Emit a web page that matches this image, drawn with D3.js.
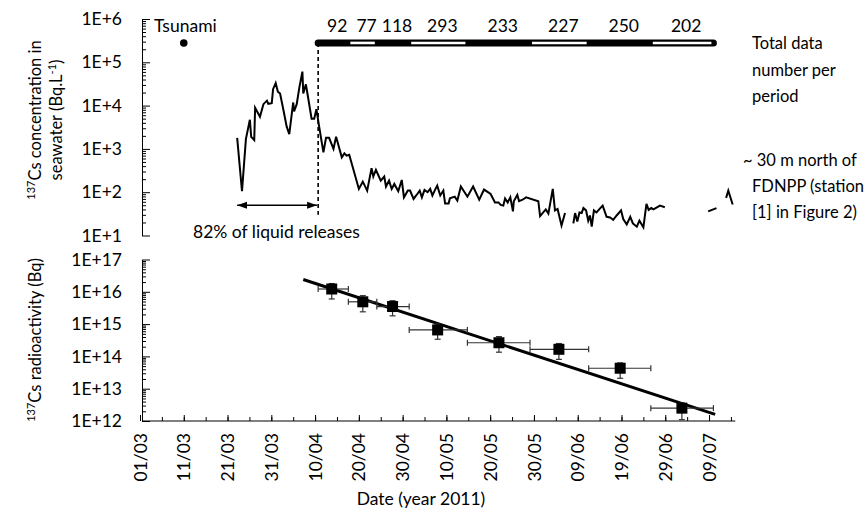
<!DOCTYPE html>
<html><head><meta charset="utf-8">
<script src="https://cdn.jsdelivr.net/npm/d3@7"></script>
<style>
body{margin:0;background:#fff}
svg{display:block}
text{font-family:Lato,"Open Sans",sans-serif;fill:#000}
</style>
</head><body><div id="chart"></div>
<script>
// ---------- data ----------
// days since 01/03/2011 ; null value = gap in the record
const seawaterDays = [22.2,23.3,24.2,25.1,25.4,26.1,26.3,27.4,28.2,29.0,29.3,30.1,30.4,31.0,31.5,32.0,32.8,33.5,34.1,35.0,35.2,35.8,36.4,37.1,37.3,37.9,38.4,39.2,39.8,40.3,40.9,41.9,42.5,43.2,44.2,44.8,46.1,46.7,47.2,47.8,50.0,50.9,51.9,52.9,53.3,53.9,55.0,55.8,56.2,56.9,57.5,58.1,59.0,59.8,60.3,61.2,61.7,62.5,63.1,63.9,64.4,65.0,65.7,66.3,66.8,67.4,67.9,68.6,69.3,69.7,70.5,70.8,71.9,72.5,73.3,74.0,74.8,76.1,77.5,78.6,80.1,81.1,81.9,82.4,83.0,83.4,84.0,84.6,85.2,85.4,86.2,86.6,87.4,88.2,91.0,91.4,92.7,93.3,94.3,94.8,95.4,96.3,97.1,98.0,99.0,99.4,99.9,100.4,100.9,101.3,101.9,102.4,102.8,103.2,103.7,104.3,104.9,105.7,106.6,107.4,108.1,108.9,109.9,110.4,111.2,112.0,112.6,113.5,114.1,115.0,115.7,116.2,116.8,117.3,118.8,119.9,125.0,129.8,131.7,132.7,133.9,134.4,135.4];
const seawaterValues = [1800,105,1700,4700,1900,1600,8900,5500,10800,13000,11000,11400,24000,33000,21000,19000,7600,3300,2200,11800,7300,10800,26000,61000,19000,31000,15400,5000,5000,8300,3400,830,1800,1800,1000,1900,640,790,700,730,119,175,109,360,230,330,185,230,135,185,119,155,105,192,76,109,109,70,84,109,76,113,100,119,84,113,142,84,109,55,55,72,79,64,135,105,79,135,67,115,91,58,58,51,49,72,58,76,36,62,87,62,67,76,62,28,40,32,119,38,41,17,33,null,19,33,21,34,33,43,38,22,29,16,38,34,40,49,27,26,23,29,38,24,18,27,19,16,22,15.5,54,39,43,40,49,45,null,36,43,null,74,109,52];

const periodBounds = [40.7,47.6,54.1,61.5,74.8,89.1,102.5,116.7,131.0];
const periodCounts = [92,77,118,293,233,227,250,202];

const activityDays   = [43.8,50.9,57.7,68.0,82.0,95.7,109.7,123.8];
const activityValues = [1.22e16,4.9e15,3.5e15,6.6e14,2.65e14,1.66e14,4.3e13,2.5e12];
const activityLow    = [6.0e15,2.4e15,1.8e15,3.4e14,1.35e14,8.1e13,2.1e13,1.1e12];
const activityHigh   = [1.8e16,7.6e15,5.3e15,1.0e15,4.1e14,2.5e14,6.3e13,3.6e12];

const fitDays   = [37.3,131.4];
const fitValues = [2.4e16,1.6e12];

const tsunamiDay = 10.0;
const releaseStartDay = 22.2;
const releaseEndDay = 40.7;
const markerLevel = 2.8e5;     // level of the tsunami dot / period bar
const arrowLevel = 50;
const dashBottomLevel = 30;

const xTickLabels = ["01/03","11/03","21/03","31/03","10/04","20/04","30/04","10/05","20/05","30/05","09/06","19/06","29/06","09/07"];
const topTickValues = [1e1,1e2,1e3,1e4,1e5,1e6];
const topTickLabels = ["1E+1","1E+2","1E+3","1E+4","1E+5","1E+6"];
const botTickValues = [1e12,1e13,1e14,1e15,1e16,1e17];
const botTickLabels = ["1E+12","1E+13","1E+14","1E+15","1E+16","1E+17"];

// ---------- drawing ----------
const W = 868, H = 513, FS = 17.5, TFS = 16.5;
const svg = d3.select("#chart").append("svg").attr("width", W).attr("height", H);
const t0 = Date.UTC(2011, 2, 1);
const dayToDate = d => new Date(t0 + d * 864e5);
const parseTick = d3.utcParse("%d/%m/%Y");

const x = d3.scaleUtc().domain([dayToDate(0), dayToDate(136)]).range([140, 735.3]);
const yTop = d3.scaleLog().domain([1e1, 1e6]).range([235.5, 19]);
const yBot = d3.scaleLog().domain([1e12, 1e17]).range([421, 259.5]);
const X = d => x(dayToDate(d));
const AX = 142; // y axes position

function styleText(sel) {
  sel.selectAll("text").attr("font-size", FS).attr("font-family", "Lato, 'Open Sans', sans-serif").attr("fill", "#000");
  sel.selectAll("line,path").attr("stroke", "#000");
}

function logAxis(scale, majors, labels) {
  const minors = [];
  majors.slice(0, -1).forEach(m => { for (let k = 2; k < 10; k++) minors.push(m * k); });
  svg.append("g").attr("transform", `translate(${AX},0)`)
    .call(d3.axisLeft(scale).tickValues(minors).tickSize(-4).tickFormat(""))
    .call(g => g.select(".domain").remove())
    .call(styleText);
  svg.append("g").attr("transform", `translate(${AX},0)`)
    .call(d3.axisLeft(scale).tickValues(majors).tickSize(-8).tickSizeOuter(0).tickPadding(20)
      .tickFormat((d, i) => labels[i]))
    .call(styleText);
}
logAxis(yTop, topTickValues, topTickLabels);
logAxis(yBot, botTickValues, botTickLabels);

// bottom x axis
const minorDays = d3.range(5, 136, 5).map(dayToDate);
svg.append("g").attr("transform", "translate(0,421)")
  .call(d3.axisBottom(x).tickValues(minorDays).tickSize(-4).tickFormat(""))
  .call(g => g.select(".domain").remove())
  .call(styleText);
const gx = svg.append("g").attr("transform", "translate(0,421)")
  .call(d3.axisBottom(x).tickValues(xTickLabels.map(l => parseTick(l + "/2011"))).tickSize(-6).tickSizeOuter(0)
    .tickFormat((d, i) => xTickLabels[i]))
  .call(styleText);
gx.select(".domain").attr("d", `M${AX},0H${x.range()[1]}`);
gx.selectAll(".tick text")
  .attr("transform", "rotate(-90)")
  .attr("text-anchor", "end")
  .attr("x", -12).attr("y", 0).attr("dy", "0.35em");

// seawater line
const line = d3.line().defined(d => d[1] != null)
  .x(d => X(d[0])).y(d => yTop(d[1]));
svg.append("path")
  .datum(seawaterDays.map((d, i) => [d, seawaterValues[i]]))
  .attr("d", line).attr("fill", "none").attr("stroke", "#000").attr("stroke-width", 2)
  .attr("stroke-linejoin", "miter");

// dashed release line
svg.append("line")
  .attr("x1", X(releaseEndDay)).attr("x2", X(releaseEndDay))
  .attr("y1", yTop(markerLevel)).attr("y2", yTop(dashBottomLevel))
  .attr("stroke", "#000").attr("stroke-width", 1.6).attr("stroke-dasharray", "4,3");

// period bar
const barY = yTop(markerLevel);
svg.append("line")
  .attr("x1", X(periodBounds[0])).attr("x2", X(periodBounds[periodBounds.length - 1]))
  .attr("y1", barY).attr("y2", barY)
  .attr("stroke", "#000").attr("stroke-width", 7).attr("stroke-linecap", "round");
periodCounts.forEach((c, i) => {
  const a = X(periodBounds[i]), b = X(periodBounds[i + 1]);
  if (i % 2 === 1) {
    svg.append("line").attr("x1", a + 2).attr("x2", b - 2).attr("y1", barY).attr("y2", barY)
      .attr("stroke", "#fff").attr("stroke-width", 2.6);
  }
  svg.append("text").attr("x", (a + b) / 2 + 4).attr("y", 32)
    .attr("text-anchor", "middle").attr("font-size", FS).text(c);
});

// tsunami
svg.append("circle").attr("cx", X(tsunamiDay)).attr("cy", barY).attr("r", 3.8).attr("fill", "#000");
svg.append("text").attr("x", 154).attr("y", 32).attr("font-size", FS).text("Tsunami");

// double arrow
const defs = svg.append("defs");
defs.append("marker").attr("id", "ah").attr("viewBox", "0 0 10 10").attr("refX", 10).attr("refY", 5)
  .attr("markerWidth", 10).attr("markerHeight", 10).attr("markerUnits", "userSpaceOnUse")
  .attr("orient", "auto-start-reverse")
  .append("path").attr("d", "M0,1.5 L10,5 L0,8.5 Z").attr("fill", "#000");
const ay = yTop(arrowLevel);
svg.append("line").attr("x1", X(releaseStartDay)).attr("x2", X(releaseEndDay) - 1)
  .attr("y1", ay).attr("y2", ay).attr("stroke", "#000").attr("stroke-width", 1.5)
  .attr("marker-start", "url(#ah)").attr("marker-end", "url(#ah)");
svg.append("text").attr("x", 193).attr("y", 238).attr("font-size", FS).text("82% of liquid releases");

// right-side notes (shrunk to fit inside the page)
[["Total data", 752, 49], ["number per", 752, 76], ["period", 752, 102],
 ["~ 30 m north of", 743, 166], ["FDNPP (station", 752, 192], ["[1] in Figure 2)", 752, 218]]
  .forEach(([t, tx, ty]) => {
    const el = svg.append("text").attr("x", tx).attr("y", ty).attr("font-size", 16.5).text(t);
    const w = el.node().getComputedTextLength();
    const room = W - tx - 3;
    if (w > room) el.attr("font-size", 16.5 * room / w);
  });

// bottom panel: fit line
svg.append("line")
  .attr("x1", X(fitDays[0])).attr("y1", yBot(fitValues[0]))
  .attr("x2", X(fitDays[1])).attr("y2", yBot(fitValues[1]))
  .attr("stroke", "#000").attr("stroke-width", 3);

// error bars + squares
activityDays.forEach((d, i) => {
  const cx = X(d), cy = yBot(activityValues[i]);
  const xa = X(periodBounds[i]), xb = X(periodBounds[i + 1]);
  const ya = yBot(activityHigh[i]), yb = yBot(activityLow[i]);
  const g = svg.append("g").attr("stroke", "#333").attr("stroke-width", 1.2);
  g.append("line").attr("x1", xa).attr("x2", xb).attr("y1", cy).attr("y2", cy);
  g.append("line").attr("x1", xa).attr("x2", xa).attr("y1", cy - 3).attr("y2", cy + 3);
  g.append("line").attr("x1", xb).attr("x2", xb).attr("y1", cy - 3).attr("y2", cy + 3);
  g.append("line").attr("x1", cx).attr("x2", cx).attr("y1", ya).attr("y2", yb);
  g.append("line").attr("x1", cx - 3).attr("x2", cx + 3).attr("y1", ya).attr("y2", ya);
  g.append("line").attr("x1", cx - 3).attr("x2", cx + 3).attr("y1", yb).attr("y2", yb);
  svg.append("rect").attr("x", cx - 5.5).attr("y", cy - 5.5).attr("width", 11).attr("height", 11).attr("fill", "#000");
});

// axis titles
function rotTitle(cx, cy, parts) {
  const t = svg.append("text").attr("transform", `translate(${cx},${cy}) rotate(-90)`)
    .attr("text-anchor", "middle").attr("font-size", TFS);
  parts.forEach(p => {
    const s = t.append("tspan").text(p.t);
    if (p.sup) s.attr("font-size", 11).attr("dy", -6);
    if (p.after) s.attr("dy", 6);
  });
}
rotTitle(41, 120, [{t: "137", sup: true}, {t: "Cs concentration in", after: true}]);
rotTitle(62, 120, [{t: "seawater (Bq.L"}, {t: "-1", sup: true}, {t: ")", after: true}]);
rotTitle(41, 340, [{t: "137", sup: true}, {t: "Cs radioactivity (Bq)", after: true}]);

svg.append("text").attr("x", 421).attr("y", 505).attr("text-anchor", "middle").attr("font-size", FS)
  .text("Date (year 2011)");
</script>
</body></html>
